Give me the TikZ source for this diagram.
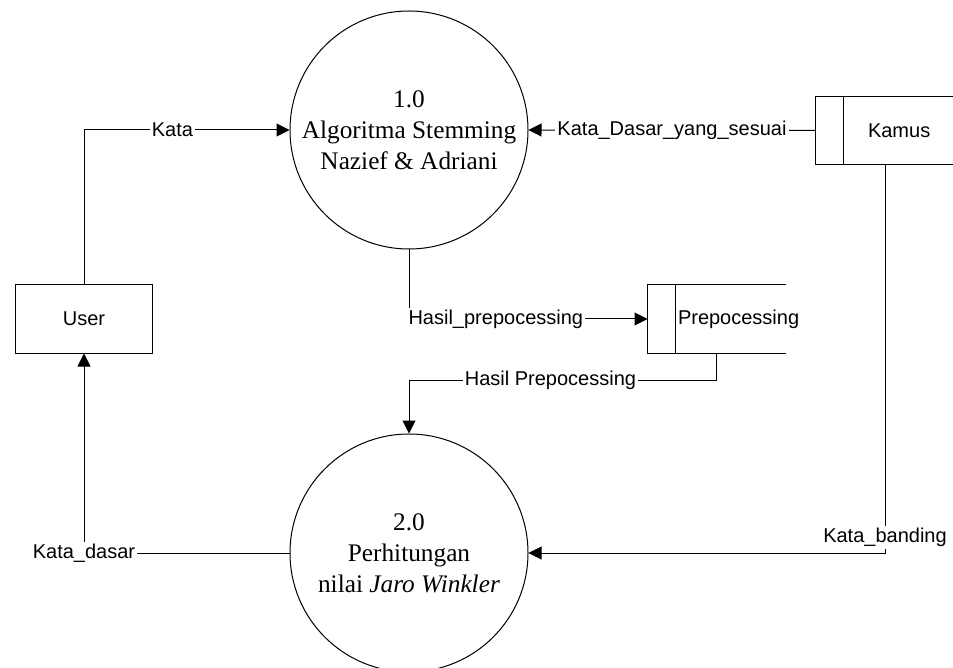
\documentclass[tikz,border=0pt]{standalone}
\usepackage{fontspec}
\setmainfont{Liberation Serif}
\setsansfont{Liberation Sans}
\usetikzlibrary{positioning,arrows.meta}

\tikzset{
  process/.style={circle, draw=black, minimum size=119pt, inner sep=0pt, align=center, font=\fontsize{12.65}{15.5}\selectfont},
  entity/.style={rectangle, draw=black, minimum width=68.5pt, minimum height=34pt, font=\sffamily\fontsize{10}{12}\selectfont},
  store/.style={rectangle, minimum width=68.5pt, minimum height=34pt, inner sep=0pt},
  storetext/.style={anchor=west, inner sep=0pt, font=\sffamily\fontsize{10}{12}\selectfont},
  flow/.style={-{Triangle[length=6.5pt,width=6.5pt]}},
  flowlabel/.style={fill=white, inner sep=1pt, font=\sffamily\fontsize{10}{12}\selectfont},
}

\begin{document}
\begin{tikzpicture}[x=0.5pt, y=-0.5pt, line width=0.5pt, node distance=92pt]
\useasboundingbox (0,0) rectangle (953,668);

\node (proc1) [process] at (409,130) {1.0\\Algoritma Stemming\\Nazief \& Adriani};
\node (proc2) [process, below=of proc1] {2.0\\Perhitungan\\nilai \textit{Jaro Winkler}};
\node (user) [entity] at (84,319) {User};
\node (kamus) [store, minimum width=69pt, minimum height=33.5pt] at (885,130.5) {};
\node (prep) [store] at (716.5,319) {};

% data stores, open on the right
\foreach \s in {kamus,prep} {
  \draw (\s.north east) -- (\s.north west) -- (\s.south west) -- (\s.south east);
  \draw ([xshift=14pt]\s.north west) -- ([xshift=14pt]\s.south west);
}
\node (kamustxt) [storetext] at ([xshift=26pt]kamus.west) {Kamus};
\node (preptxt) [storetext] at ([xshift=15pt]prep.west) {Prepocessing};

\draw[flow] (user.north) |- node[flowlabel, pos=0.715] {Kata} (proc1.west);
\draw[flow] (kamus.west) -- node[flowlabel] {Kata\_Dasar\_yang\_sesuai} (proc1.east);
\draw[flow] (proc1.south) |- node[flowlabel, pos=0.682] {Hasil\_prepocessing} (prep.west);
\draw[flow] (prep.south) -- ++(0,27) -| node[flowlabel, pos=0.27] {Hasil Prepocessing} (proc2.north);
\draw[flow] (kamus.south) |- node[flowlabel, pos=0.48] {Kata\_banding} (proc2.east);
\draw[flow] (proc2.west) -| node[flowlabel] {Kata\_dasar} (user.south);

\end{tikzpicture}
\end{document}
